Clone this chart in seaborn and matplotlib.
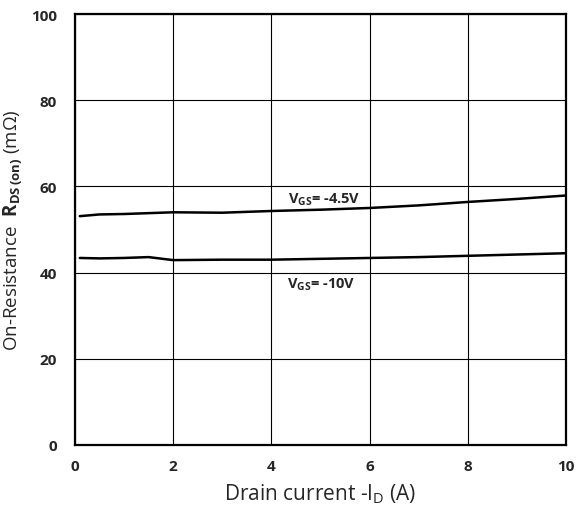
import matplotlib
matplotlib.use("Agg")
import matplotlib.pyplot as plt
import seaborn as sns
import pandas as pd

current = [0.1, 0.5, 1.0, 1.5, 2.0, 3.0, 4.0, 5.0, 6.0, 7.0, 8.0, 9.0, 10.0]
rds_45v = [53.1, 53.5, 53.6, 53.8, 54.0, 53.9, 54.3, 54.6, 55.0, 55.6, 56.4, 57.1, 57.9]
rds_10v = [43.4, 43.3, 43.4, 43.6, 42.9, 43.0, 43.0, 43.2, 43.4, 43.6, 43.9, 44.2, 44.5]
series_names = ["-4.5V", "-10V"]
x_ticks = [0, 2, 4, 6, 8, 10]
y_ticks = [0, 20, 40, 60, 80, 100]

df = pd.DataFrame({
    "I": current * 2,
    "R": rds_45v + rds_10v,
    "V": [series_names[0]] * len(current) + [series_names[1]] * len(current),
})

sns.set_style("white")
plt.rcParams["font.family"] = ["Open Sans", "DejaVu Sans"]
plt.rcParams["mathtext.fontset"] = "custom"
plt.rcParams["mathtext.rm"] = "Open Sans"
plt.rcParams["mathtext.bf"] = "Open Sans:bold"

fig = plt.figure(figsize=(5.76, 5.10), dpi=100)
ax = fig.add_axes([0.130, 0.1255, 0.853, 0.845])

sns.lineplot(data=df, x="I", y="R", hue="V", palette=["black", "black"],
             linewidth=1.8, legend=False, ax=ax)

ax.set_xlim(0, 10)
ax.set_ylim(0, 100)
ax.set_xticks(x_ticks)
ax.set_yticks(y_ticks)
ax.set_xticklabels([str(t) for t in x_ticks], fontsize=11, fontweight="bold")
ax.set_yticklabels([str(t) for t in y_ticks], fontsize=11, fontweight="bold")
ax.tick_params(axis="y", length=0, pad=13)
ax.tick_params(axis="x", length=0, pad=10)
ax.grid(True, color="black", linewidth=0.8)
for s in ax.spines.values():
    s.set_color("black")
    s.set_linewidth(1.6)

ax.set_xlabel("Drain current -I$_{\\mathregular{D}}$ (A)", fontsize=15, labelpad=6)
ax.set_ylabel("On-Resistance  $\\mathbf{R}_{\\mathbf{DS\\,(on)}}$ (mΩ)", fontsize=13.5, labelpad=4)

ax.text(4.34, 57.1, "V$_{\\mathbf{GS}}$= -4.5V", fontsize=10.5, fontweight="bold", va="center")
ax.text(4.32, 37.4, "V$_{\\mathbf{GS}}$= -10V", fontsize=10.5, fontweight="bold", va="center")

fig.savefig("out.png", dpi=100)
